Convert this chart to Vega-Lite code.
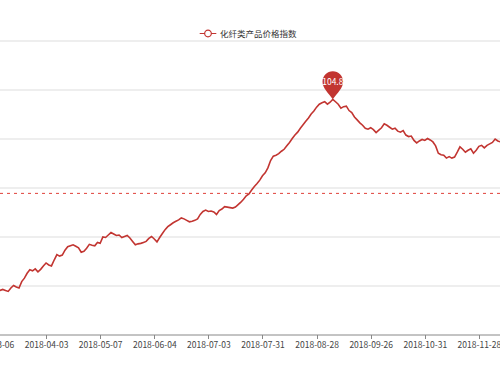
{
  "$schema": "https://vega.github.io/schema/vega-lite/v6.json",
  "width": 500,
  "height": 294,
  "autosize": "none",
  "padding": {"top": 40.5, "left": 0, "right": 0, "bottom": 40.5},
  "config": {"view": {"stroke": null}, "font": "Noto Sans CJK SC"},
  "data": {"values": [
{"d":"2018-03-06","v":100.86},{"d":"2018-03-07","v":100.88},{"d":"2018-03-08","v":100.90},{"d":"2018-03-09","v":100.90},{"d":"2018-03-12","v":100.92},{"d":"2018-03-13","v":100.90},{"d":"2018-03-14","v":100.88},{"d":"2018-03-15","v":100.95},{"d":"2018-03-16","v":101.00},{"d":"2018-03-19","v":100.97},
{"d":"2018-03-20","v":100.95},{"d":"2018-03-21","v":101.08},{"d":"2018-03-22","v":101.15},{"d":"2018-03-23","v":101.25},{"d":"2018-03-26","v":101.32},{"d":"2018-03-27","v":101.30},{"d":"2018-03-28","v":101.34},{"d":"2018-03-29","v":101.28},{"d":"2018-03-30","v":101.33},{"d":"2018-04-02","v":101.40},
{"d":"2018-04-03","v":101.46},{"d":"2018-04-04","v":101.42},{"d":"2018-04-09","v":101.40},{"d":"2018-04-10","v":101.52},{"d":"2018-04-11","v":101.63},{"d":"2018-04-12","v":101.60},{"d":"2018-04-13","v":101.62},{"d":"2018-04-16","v":101.72},{"d":"2018-04-17","v":101.79},{"d":"2018-04-18","v":101.81},
{"d":"2018-04-19","v":101.83},{"d":"2018-04-20","v":101.80},{"d":"2018-04-23","v":101.77},{"d":"2018-04-24","v":101.68},{"d":"2018-04-25","v":101.70},{"d":"2018-04-26","v":101.76},{"d":"2018-04-27","v":101.84},{"d":"2018-05-02","v":101.82},{"d":"2018-05-03","v":101.81},{"d":"2018-05-04","v":101.88},
{"d":"2018-05-07","v":101.86},{"d":"2018-05-08","v":101.99},{"d":"2018-05-09","v":101.98},{"d":"2018-05-10","v":102.03},{"d":"2018-05-11","v":102.08},{"d":"2018-05-14","v":102.05},{"d":"2018-05-15","v":102.02},{"d":"2018-05-16","v":102.03},{"d":"2018-05-17","v":101.98},{"d":"2018-05-18","v":102.00},
{"d":"2018-05-21","v":102.02},{"d":"2018-05-22","v":101.97},{"d":"2018-05-23","v":101.90},{"d":"2018-05-24","v":101.83},{"d":"2018-05-25","v":101.85},{"d":"2018-05-28","v":101.86},{"d":"2018-05-29","v":101.88},{"d":"2018-05-30","v":101.90},{"d":"2018-05-31","v":101.96},{"d":"2018-06-01","v":102.00},
{"d":"2018-06-04","v":101.95},{"d":"2018-06-05","v":101.89},{"d":"2018-06-06","v":101.98},{"d":"2018-06-07","v":102.06},{"d":"2018-06-08","v":102.14},{"d":"2018-06-11","v":102.20},{"d":"2018-06-12","v":102.24},{"d":"2018-06-13","v":102.28},{"d":"2018-06-14","v":102.31},{"d":"2018-06-15","v":102.34},
{"d":"2018-06-19","v":102.38},{"d":"2018-06-20","v":102.36},{"d":"2018-06-21","v":102.33},{"d":"2018-06-22","v":102.30},{"d":"2018-06-25","v":102.31},{"d":"2018-06-26","v":102.33},{"d":"2018-06-27","v":102.36},{"d":"2018-06-28","v":102.45},{"d":"2018-06-29","v":102.51},{"d":"2018-07-02","v":102.54},
{"d":"2018-07-03","v":102.51},{"d":"2018-07-04","v":102.52},{"d":"2018-07-05","v":102.50},{"d":"2018-07-06","v":102.45},{"d":"2018-07-09","v":102.53},{"d":"2018-07-10","v":102.56},{"d":"2018-07-11","v":102.61},{"d":"2018-07-12","v":102.60},{"d":"2018-07-13","v":102.59},{"d":"2018-07-16","v":102.58},
{"d":"2018-07-17","v":102.60},{"d":"2018-07-18","v":102.65},{"d":"2018-07-19","v":102.70},{"d":"2018-07-20","v":102.76},{"d":"2018-07-23","v":102.83},{"d":"2018-07-24","v":102.87},{"d":"2018-07-25","v":102.95},{"d":"2018-07-26","v":103.02},{"d":"2018-07-27","v":103.08},{"d":"2018-07-30","v":103.15},
{"d":"2018-07-31","v":103.24},{"d":"2018-08-01","v":103.30},{"d":"2018-08-02","v":103.40},{"d":"2018-08-03","v":103.55},{"d":"2018-08-06","v":103.64},{"d":"2018-08-07","v":103.66},{"d":"2018-08-08","v":103.69},{"d":"2018-08-09","v":103.74},{"d":"2018-08-10","v":103.78},{"d":"2018-08-13","v":103.85},
{"d":"2018-08-14","v":103.92},{"d":"2018-08-15","v":104.00},{"d":"2018-08-16","v":104.07},{"d":"2018-08-17","v":104.13},{"d":"2018-08-20","v":104.21},{"d":"2018-08-21","v":104.28},{"d":"2018-08-22","v":104.35},{"d":"2018-08-23","v":104.42},{"d":"2018-08-24","v":104.50},{"d":"2018-08-27","v":104.56},
{"d":"2018-08-28","v":104.64},{"d":"2018-08-29","v":104.70},{"d":"2018-08-30","v":104.73},{"d":"2018-08-31","v":104.75},{"d":"2018-09-03","v":104.70},{"d":"2018-09-04","v":104.74},{"d":"2018-09-05","v":104.80},{"d":"2018-09-06","v":104.75},{"d":"2018-09-07","v":104.70},{"d":"2018-09-10","v":104.62},
{"d":"2018-09-11","v":104.65},{"d":"2018-09-12","v":104.66},{"d":"2018-09-13","v":104.57},{"d":"2018-09-14","v":104.53},{"d":"2018-09-17","v":104.44},{"d":"2018-09-18","v":104.38},{"d":"2018-09-19","v":104.32},{"d":"2018-09-20","v":104.27},{"d":"2018-09-21","v":104.21},{"d":"2018-09-25","v":104.19},
{"d":"2018-09-26","v":104.22},{"d":"2018-09-27","v":104.18},{"d":"2018-09-28","v":104.12},{"d":"2018-10-08","v":104.17},{"d":"2018-10-09","v":104.22},{"d":"2018-10-10","v":104.30},{"d":"2018-10-11","v":104.27},{"d":"2018-10-12","v":104.23},{"d":"2018-10-15","v":104.19},{"d":"2018-10-16","v":104.21},
{"d":"2018-10-17","v":104.15},{"d":"2018-10-18","v":104.13},{"d":"2018-10-19","v":104.16},{"d":"2018-10-22","v":104.07},{"d":"2018-10-23","v":104.04},{"d":"2018-10-24","v":104.05},{"d":"2018-10-25","v":103.96},{"d":"2018-10-26","v":103.91},{"d":"2018-10-29","v":103.95},{"d":"2018-10-30","v":103.98},
{"d":"2018-10-31","v":103.96},{"d":"2018-11-01","v":104.00},{"d":"2018-11-02","v":103.97},{"d":"2018-11-05","v":103.93},{"d":"2018-11-06","v":103.85},{"d":"2018-11-07","v":103.70},{"d":"2018-11-08","v":103.67},{"d":"2018-11-09","v":103.66},{"d":"2018-11-12","v":103.60},{"d":"2018-11-13","v":103.63},
{"d":"2018-11-14","v":103.60},{"d":"2018-11-15","v":103.62},{"d":"2018-11-16","v":103.72},{"d":"2018-11-19","v":103.83},{"d":"2018-11-20","v":103.78},{"d":"2018-11-21","v":103.72},{"d":"2018-11-22","v":103.76},{"d":"2018-11-23","v":103.79},{"d":"2018-11-26","v":103.70},{"d":"2018-11-27","v":103.76},
{"d":"2018-11-28","v":103.84},{"d":"2018-11-29","v":103.86},{"d":"2018-11-30","v":103.81},{"d":"2018-12-03","v":103.86},{"d":"2018-12-04","v":103.89},{"d":"2018-12-05","v":103.92},{"d":"2018-12-06","v":103.99},{"d":"2018-12-07","v":103.95},{"d":"2018-12-10","v":103.93}
  ]},
  "encoding": {
    "x": {"field": "d", "type": "ordinal", "sort": null,
      "scale": {"type": "point", "range": [-9.4, 501.9]},
      "axis": {"title": null, "labelAngle": 0, "values": ["2018-03-06","2018-04-03","2018-05-07","2018-06-04","2018-07-03","2018-07-31","2018-08-28","2018-09-26","2018-10-31","2018-11-28"],
        "labelFontSize": 8.5, "labelColor": "#444", "domainColor": "#888", "tickColor": "#888", "tickSize": 4, "labelPadding": 2, "grid": false, "labelOverlap": false, "labelBound": false}},
    "y": {"field": "v", "type": "quantitative",
      "scale": {"domain": [100, 106], "nice": false, "zero": false},
      "axis": {"title": null, "labels": false, "ticks": false, "domain": false, "grid": true, "values": [101,102,103,104,105,106], "gridColor": "#dddddd", "gridWidth": 1}}
  },
  "layer": [
    {
      "mark": {"type": "line", "strokeWidth": 1.6, "clip": true, "interpolate": "linear"},
      "encoding": {
        "color": {"datum": "化纤类产品价格指数", "type": "nominal", "scale": {"range": ["#c23531"]},
          "legend": {"title": null, "orient": "none", "legendX": 199, "legendY": -16, "padding": 0,
            "symbolType": "M-1,0L-0.4,0M0.4,0L1,0M-0.4,0A0.4,0.4,0,1,0,0.4,0A0.4,0.4,0,1,0,-0.4,0",
            "symbolSize": 276, "symbolStrokeWidth": 1.2, "symbolFillColor": "#ffffff", "symbolStrokeColor": "#c23531",
            "labelFontSize": 8.5, "labelColor": "#333", "labelOffset": 3}}
      }
    },
    {
      "data": {"values": [{"avg": 102.88}]},
      "mark": {"type": "rule", "stroke": "#e0403a", "strokeOpacity": 1, "strokeWidth": 1, "strokeDash": [3, 4]},
      "encoding": {"x": null, "y": {"field": "avg", "type": "quantitative"}}
    },
    {
      "transform": [{"joinaggregate": [{"op": "max", "field": "v", "as": "mx"}]}, {"filter": "datum.v == datum.mx"}],
      "mark": {"type": "point", "shape": "M0,0C-0.3,-0.45,-0.7,-0.75,-0.7,-1.2A0.7,0.7,0,1,1,0.7,-1.2C0.7,-0.75,0.3,-0.45,0,0Z", "size": 865, "filled": true, "color": "#c23531", "opacity": 1, "strokeWidth": 0}
    },
    {
      "transform": [{"joinaggregate": [{"op": "max", "field": "v", "as": "mx"}]}, {"filter": "datum.v == datum.mx"}],
      "mark": {"type": "text", "color": "#ffffff", "fontSize": 8.5, "dy": -17.5, "baseline": "middle", "align": "center"},
      "encoding": {"text": {"field": "v", "type": "quantitative", "format": ".1f"}}
    }
  ]
}
